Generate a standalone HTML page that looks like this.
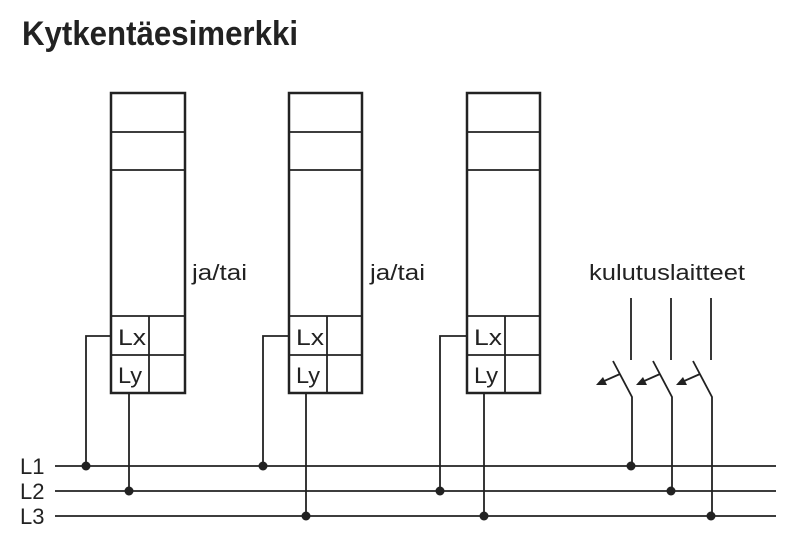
<!DOCTYPE html>
<html><head><meta charset="utf-8"><style>body{margin:0;background:#fff}svg{display:block}</style></head><body>
<svg width="800" height="545" xmlns="http://www.w3.org/2000/svg" font-family="Liberation Sans, sans-serif">
<text x="22" y="45" font-size="34" font-weight="bold" fill="#222" textLength="276" lengthAdjust="spacingAndGlyphs">Kytkentäesimerkki</text>
<g stroke="#222" fill="none">
<g stroke-width="2.5">
<rect x="111" y="93" width="74" height="300"/>
<rect x="289" y="93" width="73" height="300"/>
<rect x="467" y="93" width="73" height="300"/>
</g>
<g stroke-width="1.8">
<path d="M111 132H185M111 170H185M111 316H185M111 355H185M149 316V393"/>
<path d="M289 132H362M289 170H362M289 316H362M289 355H362M327 316V393"/>
<path d="M467 132H540M467 170H540M467 316H540M467 355H540M505 316V393"/>
<path d="M55 466H776M55 491H776M55 516H776"/>
<path d="M111 336H86V466M129 393V491"/>
<path d="M289 336H263V466M306 393V516"/>
<path d="M467 336H440V491M484 393V516"/>
<path d="M631 298V360M613 361L632 397V466M620 374L602 382"/>
<path d="M671 298V360M653 361L672 397V491M660 374L642 382"/>
<path d="M711 298V360M693 361L712 397V516M700 374L682 382"/>
</g>
</g>
<g fill="#222">
<path d="M596 385L603 377L607 385Z"/>
<path d="M636 385L643 377L647 385Z"/>
<path d="M676 385L683 377L687 385Z"/>
<circle cx="86" cy="466" r="4.5"/><circle cx="129" cy="491" r="4.5"/>
<circle cx="263" cy="466" r="4.5"/><circle cx="306" cy="516" r="4.5"/>
<circle cx="440" cy="491" r="4.5"/><circle cx="484" cy="516" r="4.5"/>
<circle cx="631" cy="466" r="4.5"/><circle cx="671" cy="491" r="4.5"/><circle cx="711" cy="516" r="4.5"/>
</g>
<g fill="#222" font-size="22">
<text x="118" y="345" textLength="28" lengthAdjust="spacingAndGlyphs">Lx</text><text x="118" y="383" textLength="24" lengthAdjust="spacingAndGlyphs">Ly</text>
<text x="296" y="345" textLength="28" lengthAdjust="spacingAndGlyphs">Lx</text><text x="296" y="383" textLength="24" lengthAdjust="spacingAndGlyphs">Ly</text>
<text x="474" y="345" textLength="28" lengthAdjust="spacingAndGlyphs">Lx</text><text x="474" y="383" textLength="24" lengthAdjust="spacingAndGlyphs">Ly</text>
<text x="192" y="280" textLength="55" lengthAdjust="spacingAndGlyphs">ja/tai</text>
<text x="370" y="280" textLength="55" lengthAdjust="spacingAndGlyphs">ja/tai</text>
<text x="589" y="280" textLength="156" lengthAdjust="spacingAndGlyphs">kulutuslaitteet</text>
<text x="20" y="474">L1</text><text x="20" y="499">L2</text><text x="20" y="524">L3</text>
</g>
</svg>
</body></html>
